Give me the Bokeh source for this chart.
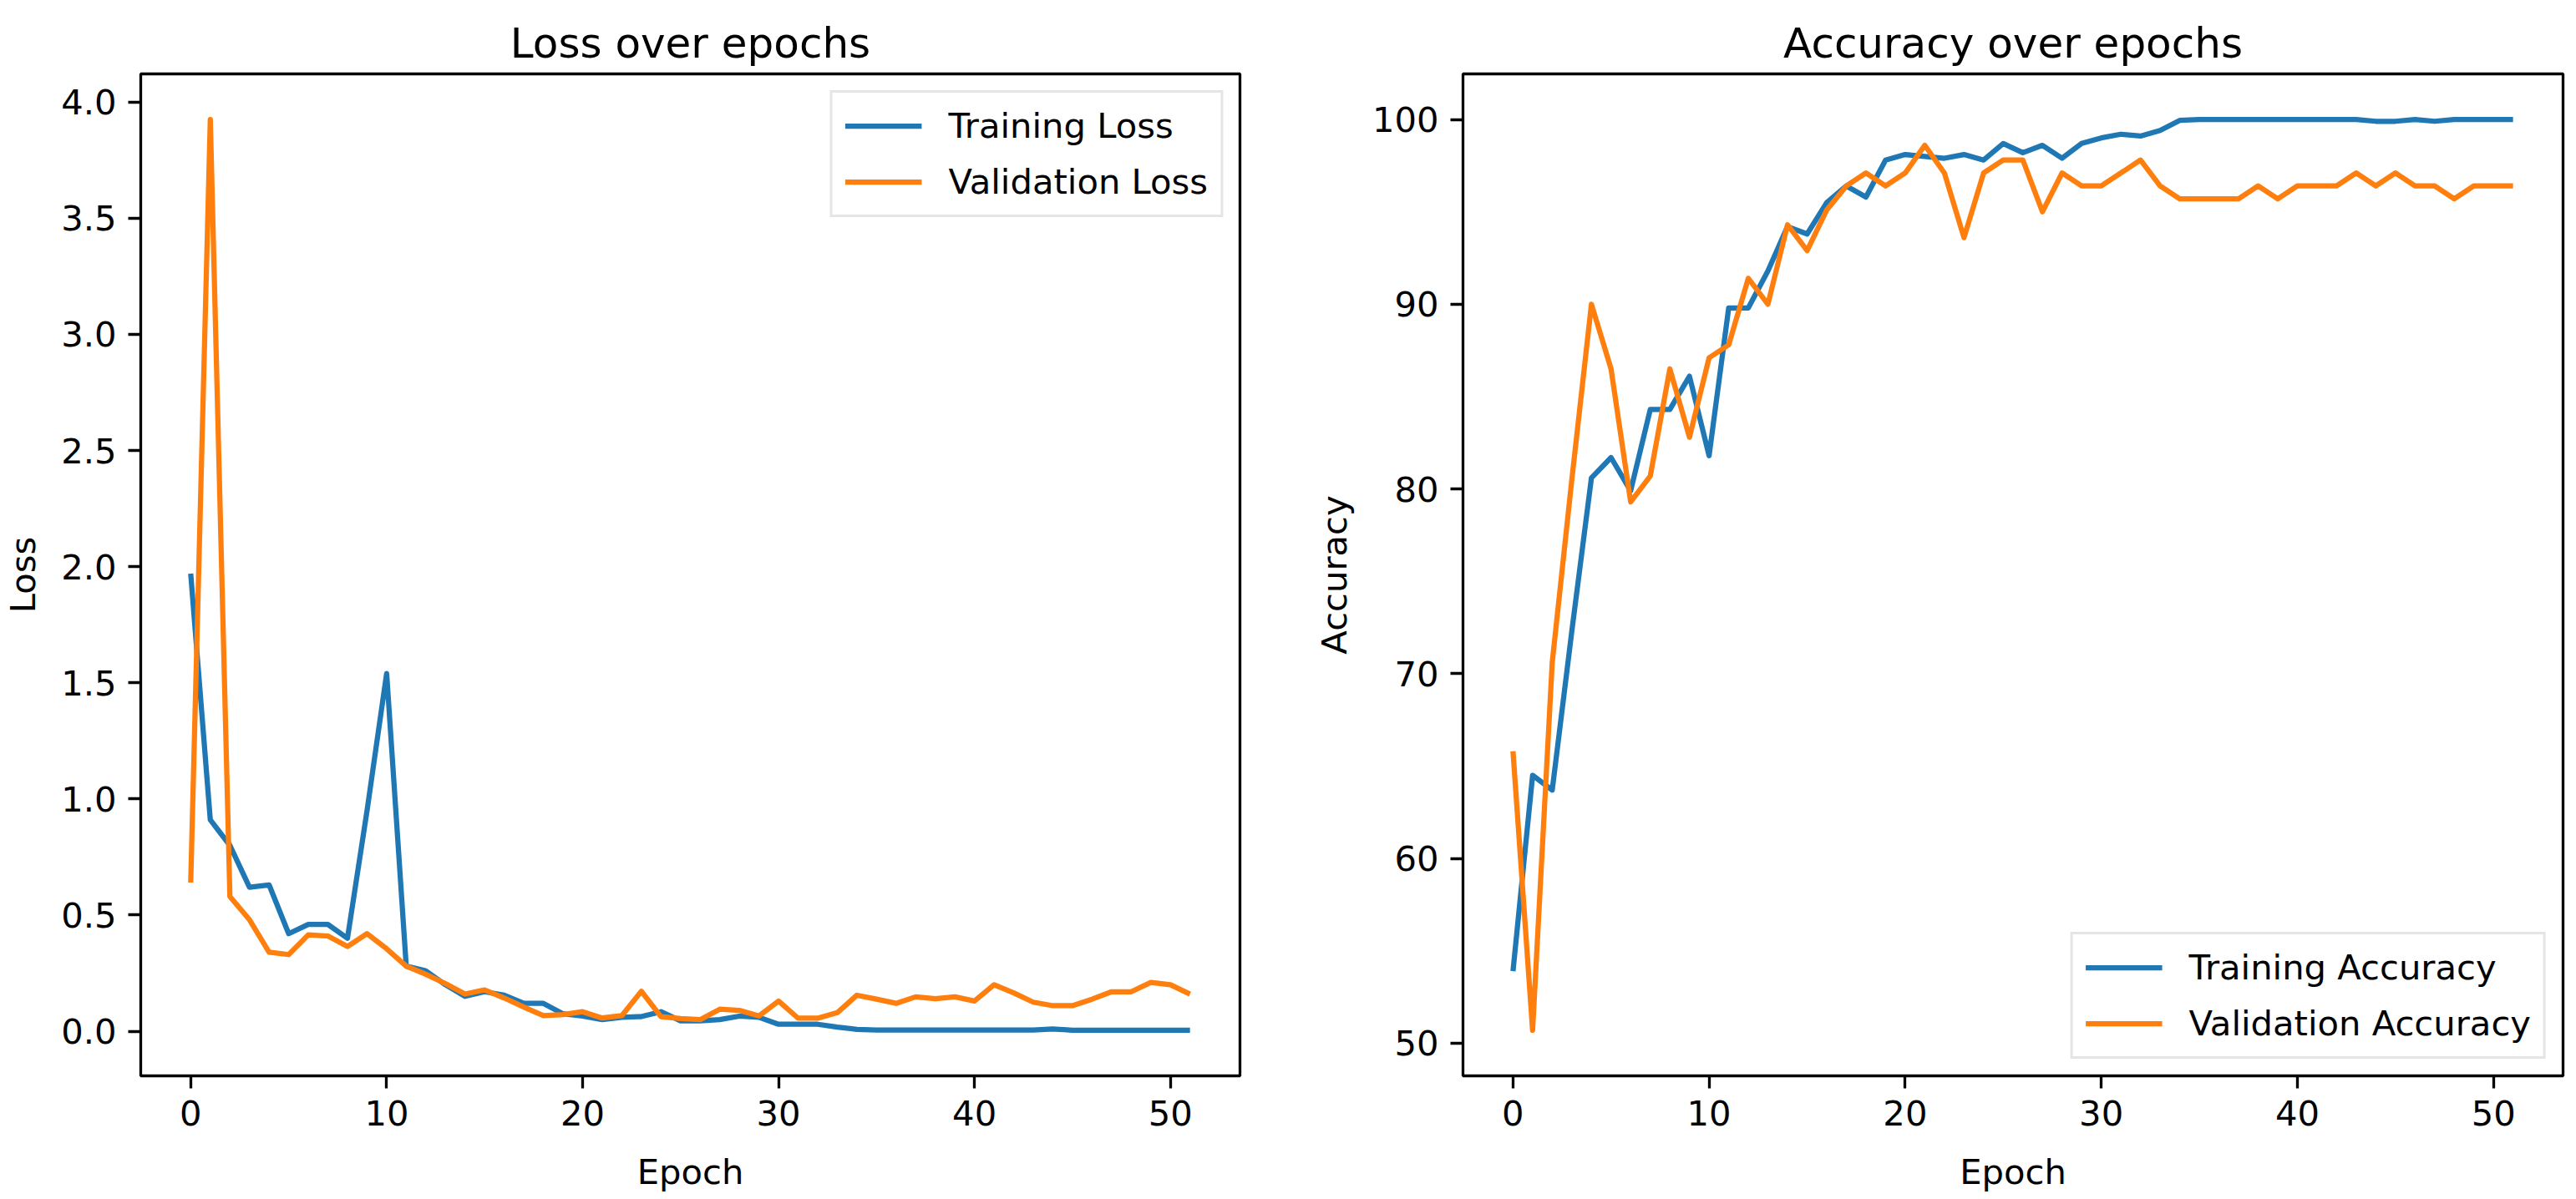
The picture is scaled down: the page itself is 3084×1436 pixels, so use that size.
from bokeh.plotting import figure
from bokeh.layouts import row
from bokeh.models import Range1d, FixedTicker, NumeralTickFormatter, Legend, LegendItem
from bokeh.embed import file_html
from bokeh.resources import INLINE

# ---------------- data ----------------
epochs = list(range(52))

train_loss = [1.97, 0.91, 0.80, 0.62, 0.63, 0.42, 0.46, 0.46, 0.40, 0.95,
              1.54, 0.28, 0.26, 0.20, 0.15, 0.17, 0.155, 0.12, 0.12, 0.075,
              0.065, 0.05, 0.06, 0.063, 0.084, 0.045, 0.045, 0.05, 0.065, 0.06,
              0.03, 0.03, 0.03, 0.018, 0.008, 0.005, 0.005, 0.005, 0.005, 0.005,
              0.005, 0.005, 0.005, 0.005, 0.01, 0.004, 0.004, 0.004, 0.004, 0.004,
              0.004, 0.004]
val_loss = [0.64, 3.925, 0.58, 0.48, 0.34, 0.33, 0.415, 0.41, 0.365, 0.42,
            0.355, 0.28, 0.245, 0.205, 0.16, 0.178, 0.143, 0.104, 0.067, 0.072,
            0.084, 0.057, 0.067, 0.172, 0.063, 0.055, 0.05, 0.095, 0.09, 0.066,
            0.13, 0.056, 0.056, 0.08, 0.155, 0.138, 0.12, 0.148, 0.14, 0.148,
            0.13, 0.2, 0.165, 0.125, 0.11, 0.11, 0.138, 0.17, 0.17, 0.21,
            0.2, 0.16]
train_acc = [53.9, 64.5, 63.7, 72.3, 80.6, 81.7, 79.9, 84.3, 84.3, 86.1,
             81.8, 89.8, 89.8, 91.8, 94.2, 93.8, 95.5, 96.4, 95.8, 97.8,
             98.1, 98.0, 97.9, 98.1, 97.8, 98.7, 98.2, 98.6, 97.9, 98.7,
             99.0, 99.2, 99.1, 99.4, 99.95, 100, 100, 100, 100, 100,
             100, 100, 100, 100, 99.9, 99.9, 100, 99.9, 100, 100,
             100, 100]
val_acc = [65.8, 50.7, 70.6, 80.5, 90.0, 86.5, 79.3, 80.7, 86.5, 82.8,
           87.1, 87.8, 91.4, 90.0, 94.3, 92.9, 95.1, 96.4, 97.1, 96.4,
           97.1, 98.6, 97.1, 93.6, 97.1, 97.8, 97.8, 95.0, 97.1, 96.4,
           96.4, 97.1, 97.8, 96.4, 95.7, 95.7, 95.7, 95.7, 96.4, 95.7,
           96.4, 96.4, 96.4, 97.1, 96.4, 97.1, 96.4, 96.4, 95.7, 96.4,
           96.4, 96.4]

x_ticks = [0, 10, 20, 30, 40, 50]
loss_ticks = [0.0, 0.5, 1.0, 1.5, 2.0, 2.5, 3.0, 3.5, 4.0]
acc_ticks = [50, 60, 70, 80, 90, 100]

titles = ["Loss over epochs", "Accuracy over epochs"]
ylabels = ["Loss", "Accuracy"]
legend_labels = [["Training Loss", "Validation Loss"], ["Training Accuracy", "Validation Accuracy"]]

# ---------------- style ----------------
FONT = "DejaVu Sans"
FS = "41.7px"
BLUE = "#1f77b4"
ORANGE = "#ff7f0e"
LW = 6.25


def padded(a, b):
    lo = min(min(a), min(b))
    hi = max(max(a), max(b))
    m = (hi - lo) * 0.05
    return Range1d(lo - m, hi + m)


def xrange_():
    m = (max(epochs) - min(epochs)) * 0.05
    return Range1d(min(epochs) - m, max(epochs) + m)


def make_fig(idx, ya, yb, yticks, yfmt, width, border_left, border_right, legend_loc):
    p = figure(width=width, height=1432, output_backend="svg", toolbar_location=None,
               x_range=xrange_(), y_range=padded(ya, yb),
               min_border_left=border_left, min_border_right=border_right,
               min_border_top=88, min_border_bottom=144,
               title=titles[idx])
    p.title.text_font = FONT
    p.title.text_font_size = "50px"
    p.title.text_font_style = "normal"
    p.title.align = "center"
    p.title.text_color = "black"
    p.title.standoff = 16

    p.grid.visible = False
    p.outline_line_color = "black"
    p.outline_line_width = 3.3
    p.outline_line_alpha = 1.0
    p.background_fill_color = "white"
    p.border_fill_color = "white"

    for ax in (p.xaxis[0], p.yaxis[0]):
        ax.axis_line_color = None
        ax.major_tick_out = 15
        ax.major_tick_in = 0
        ax.minor_tick_out = 0
        ax.minor_tick_in = 0
        ax.major_tick_line_width = 3.3
        ax.major_tick_line_color = "black"
        ax.major_label_standoff = 14
        ax.major_label_text_font = FONT
        ax.major_label_text_font_size = FS
        ax.major_label_text_color = "black"
        ax.axis_label_text_font = FONT
        ax.axis_label_text_font_size = FS
        ax.axis_label_text_font_style = "normal"
        ax.axis_label_text_color = "black"
    p.xaxis[0].axis_label_standoff = 28
    p.yaxis[0].axis_label_standoff = 18

    p.xaxis[0].ticker = FixedTicker(ticks=x_ticks)
    p.yaxis[0].ticker = FixedTicker(ticks=yticks)
    if yfmt:
        p.yaxis[0].formatter = NumeralTickFormatter(format=yfmt)
    p.xaxis[0].axis_label = "Epoch"
    p.yaxis[0].axis_label = ylabels[idx]

    r1 = p.line(epochs, ya, line_color=BLUE, line_width=LW, line_join="round")
    r2 = p.line(epochs, yb, line_color=ORANGE, line_width=LW, line_join="round")

    legend = Legend(items=[LegendItem(label=legend_labels[idx][0], renderers=[r1]),
                           LegendItem(label=legend_labels[idx][1], renderers=[r2])],
                    location=legend_loc)
    legend.label_text_font = FONT
    legend.label_text_font_size = FS
    legend.label_text_color = "black"
    legend.glyph_width = 92
    legend.glyph_height = 47
    legend.label_height = 47
    legend.label_standoff = 32
    legend.spacing = 18
    legend.padding = 15
    legend.margin = 20
    legend.border_line_color = "#cccccc"
    legend.border_line_width = 3
    legend.background_fill_color = "white"
    legend.background_fill_alpha = 0.8
    p.add_layout(legend)
    return p


p1 = make_fig(0, train_loss, val_loss, loss_ticks, "0.0", 1542, 168, 58, "top_right")
p2 = make_fig(1, train_acc, val_acc, acc_ticks, None, 1538, 209, 12, "bottom_right")

layout = row(p1, p2, spacing=0)
open("out.html", "w").write(file_html(layout, INLINE))
